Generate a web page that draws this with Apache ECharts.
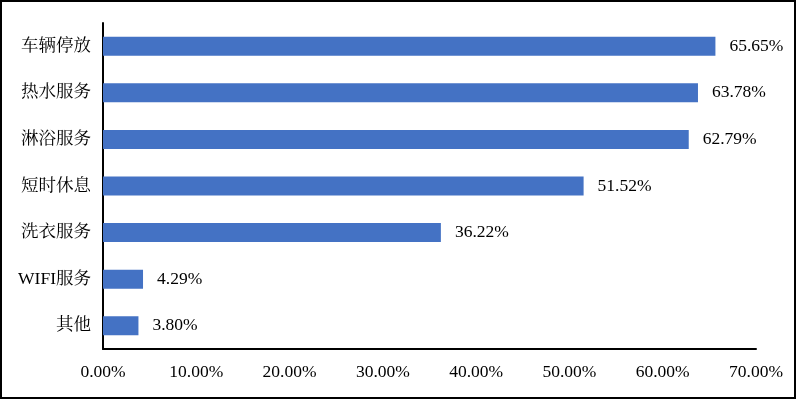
<!DOCTYPE html>
<html>
<head>
<meta charset="utf-8">
<script src="https://cdn.jsdelivr.net/npm/echarts@6/dist/echarts.min.js"></script>
<style>
html,body{margin:0;padding:0;background:#fff;}
#frame{position:absolute;left:0;top:0;width:796px;height:399px;box-sizing:border-box;border:2px solid #000;}
#chart{position:absolute;left:0;top:0;width:796px;height:399px;}
</style>
</head>
<body>
<div id="chart"></div>
<div id="frame"></div>
<script>
const categories = ['车辆停放','热水服务','淋浴服务','短时休息','洗衣服务','WIFI服务','其他'];
const values = [65.65, 63.78, 62.79, 51.52, 36.22, 4.29, 3.80];
const axisMax = 70;
const axisInterval = 10;

const fontFam = '"Liberation Serif","Times New Roman","Noto Serif CJK SC","Noto Sans CJK SC",serif';
const chart = echarts.init(document.getElementById('chart'), null, {renderer:'canvas'});
chart.setOption({
  animation:false,
  backgroundColor:'#fff',
  grid:{left:103, right:40, top:23, bottom:50, containLabel:false},
  xAxis:{
    type:'value', min:0, max:axisMax, interval:axisInterval,
    axisLine:{show:true, lineStyle:{color:'#000', width:2}},
    axisTick:{show:false},
    splitLine:{show:false},
    axisLabel:{color:'#000', fontSize:17.5, fontFamily:fontFam, margin:15,
      formatter:v=>v.toFixed(2)+'%'}
  },
  yAxis:{
    type:'category', inverse:true, data:categories,
    axisLine:{show:true, lineStyle:{color:'#000', width:2}},
    axisTick:{show:false},
    axisLabel:{color:'#000', fontSize:17.5, fontFamily:fontFam, margin:12}
  },
  series:[{
    type:'bar', data:values, barWidth:19,
    itemStyle:{color:'#4472C4'},
    label:{show:true, position:'right', distance:14, color:'#000', fontSize:17.5, fontFamily:fontFam,
      formatter:p=>p.value.toFixed(2)+'%'}
  }]
});
</script>
</body>
</html>
